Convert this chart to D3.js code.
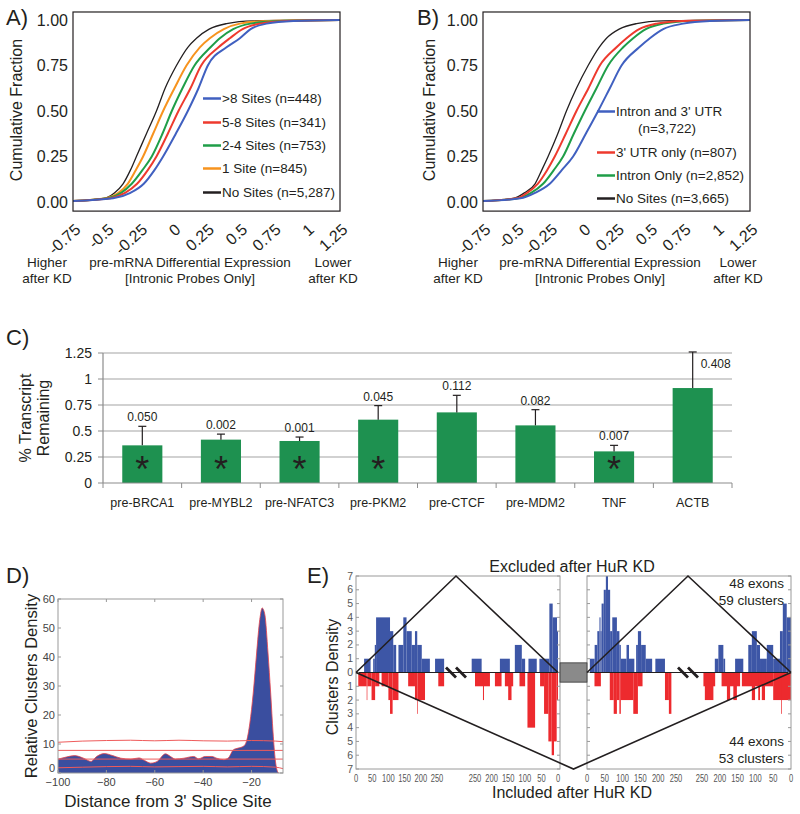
<!DOCTYPE html>
<html><head><meta charset="utf-8">
<script src="https://cdn.jsdelivr.net/npm/d3@7"></script>
<style>
body{margin:0;background:#fff}
svg{display:block}
text{font-family:"Liberation Sans",Arial,Helvetica,sans-serif}
</style>
</head><body>
<svg id="c" width="800" height="814"></svg>
<script>
// ---------------- DATA ----------------
// Panels A/B: x-position (differential expression) reached by each curve at each cumulative-fraction level
const cdfLevels = [0.005,0.02,0.05,0.1,0.175,0.25,0.375,0.5,0.625,0.75,0.85,0.9,0.95,0.98,0.995,1.0];
const aBlack  = [-0.75,-0.52,-0.44,-0.375,-0.32,-0.275,-0.2,-0.125,-0.06,0.025,0.11,0.175,0.27,0.4,0.6,1.25];
const aOrange = [-0.75,-0.5,-0.41,-0.34,-0.28,-0.225,-0.15,-0.075,0.01,0.1,0.2,0.275,0.38,0.5,0.72,1.25];
const aGreen  = [-0.75,-0.49,-0.39,-0.31,-0.23,-0.16,-0.08,-0.01,0.07,0.16,0.28,0.35,0.45,0.58,0.8,1.25];
const aRed    = [-0.75,-0.47,-0.36,-0.27,-0.19,-0.125,-0.04,0.04,0.13,0.21,0.34,0.425,0.52,0.65,0.85,1.25];
const aBlue   = [-0.75,-0.45,-0.32,-0.22,-0.14,-0.075,0.02,0.11,0.19,0.26,0.4,0.5,0.58,0.7,0.9,1.25];
const aLegend = [">8 Sites (n=448)","5-8 Sites (n=341)","2-4 Sites (n=753)","1 Site (n=845)","No Sites (n=5,287)"];

const bBlack = [-0.75,-0.52,-0.44,-0.36,-0.31,-0.2625,-0.19,-0.125,-0.05,0.0375,0.12,0.175,0.27,0.4,0.6,1.25];
const bRed   = [-0.75,-0.5,-0.42,-0.34,-0.27,-0.2125,-0.13,-0.05,0.04,0.125,0.25,0.325,0.42,0.55,0.75,1.25];
const bGreen = [-0.75,-0.49,-0.39,-0.3,-0.22,-0.15,-0.07,0.0125,0.1,0.1875,0.3,0.375,0.47,0.6,0.8,1.25];
const bBlue  = [-0.75,-0.47,-0.36,-0.25,-0.16,-0.075,0.02,0.1125,0.2,0.2875,0.42,0.5,0.6,0.75,0.95,1.25];
const bLegend = ["Intron and 3' UTR","(n=3,722)","3' UTR only (n=807)","Intron Only (n=2,852)","No Sites (n=3,665)"];

const abXTicks = [-0.75,-0.5,-0.25,0,0.25,0.5,0.75,1,1.25];
const abXTickLabels = ["-0.75","-0.5","-0.25","0","0.25","0.5","0.75","1","1.25"];
const abYTicks = [0,0.25,0.5,0.75,1];

// Panel C
const cGenes  = ["pre-BRCA1","pre-MYBL2","pre-NFATC3","pre-PKM2","pre-CTCF","pre-MDM2","TNF","ACTB"];
const cValues = [0.362,0.417,0.404,0.609,0.679,0.554,0.304,0.913];
const cErrTop = [0.545,0.470,0.442,0.744,0.843,0.705,0.362,1.26];
const cPvals  = ["0.050","0.002","0.001","0.045","0.112","0.082","0.007","0.408"];
const cSig    = [true,true,true,true,false,false,true,false];
const cYTicks = [0,0.25,0.5,0.75,1,1.25];
const cYTickLabels = ["0","0.25","0.5","0.75","1","1.25"];

// Panel D
const dX = [-100,-96.6,-93.2,-89.7,-86.3,-84.3,-80.9,-77.4,-74,-69.9,-66.5,-64.4,-61.7,-59,-55.6,-53.5,-51.5,-48,-43.9,-41.9,-39.1,-36.4,-34.4,-31.6,-29.6,-27.5,-25.5,-23.4,-22.1,-20.7,-19.3,-17.9,-16.6,-15.6,-14.5,-13.2,-12.1,-11.1,-10.2,-9.3,-8.8];
const dY = [4.8,5.5,6.0,5.2,4.0,5.5,6.7,6.0,5.1,4.8,5.2,4.4,3.4,4.0,6.6,5.7,4.8,5.1,5.7,4.9,5.7,5.7,5.1,4.6,5.2,8.0,8.6,9.2,10.9,17.2,27.6,41.4,52.9,56.9,54.6,41.4,27.6,13.8,4.6,0.6,0];
const dThreshX = [-100,-90,-80,-70,-60,-50,-40,-30,-20,-10,-7];
const dThreshUpper = [10.6,11.0,11.2,11.3,11.1,11.3,11.1,11.0,11.2,11.0,10.8];
const dThreshLower = [1.8,2.0,2.2,2.3,2.1,2.2,2.3,2.1,2.3,2.0,1.5];
const dThreshFlat = [7.8,4.8];
const dXTicks = [-100,-80,-60,-40,-20];
const dYTicks = [0,10,20,30,40,50,60];

// Panel E: histogram bins [start, end, count]
const eLeftA_blue = [[25,45,1],[53,58,1],[58,62,2],[62,105,4],[105,115,3],[115,124,2],[131,146,2],[146,156,4],[156,172,3],[172,182,2],[182,189,3],[189,203,2],[203,228,1],[244,272,1]];
const eLeftA_red  = [[7,33,1],[33,35,2],[35,48,1],[48,59,2],[59,72,1],[79,100,1],[100,105,2],[105,113,3],[113,131,2],[161,182,1],[182,189,2],[189,191,3],[191,213,2],[254,272,1]];
const eLeftB_blue = [[0,3,3],[3,16,4],[16,26,5],[26,56,1],[64,89,1],[99,109,1],[109,130,2],[145,175,1],[230,260,1]];
const eLeftB_red  = [[0,4,2],[4,12,5],[12,19,6],[19,29,5],[29,42,3],[42,54,1],[69,92,4],[99,116,1],[135,160,1],[140,150,2],[170,190,1],[205,250,1],[223,226,2]];
const eRightA_blue = [[8,21.5,1],[21.5,29,2],[29,35,3],[35,38,4],[38,41,3],[41,47,5],[47,53,6],[53,59,7],[59,65,6],[65,71,3],[71,84,4],[84,91,3],[91,95,2],[95,111,1],[111,118,2],[118,133,1],[138,143,2],[143,152,3],[152,165,2],[165,183,1],[192,219,1]];
const eRightA_red  = [[21,39,1],[64,75,2],[75,84,3],[84,91,2],[91,95,3],[95,130,2],[130,143,3],[143,156,1],[219,230,2],[230,237,3]];
const eRightB_blue = [[0,12,4],[12,23,5],[23,31,3],[31,50,1],[50,68,2],[68,87,1],[87,96,2],[96,110,3],[110,120,2],[134,157,1],[185,190,1],[190,204,2],[204,214,1]];
const eRightB_red  = [[0,50,2],[26,28,3],[50,138,1],[73,82,2],[87,92,2],[101,110,2],[143,195,1],[152,162,2],[171,180,2],[213,246,1],[218,242,2]];
const eXTicks = [0,50,100,150,200,250];
const eYTicks = [-7,-6,-5,-4,-3,-2,-1,0,1,2,3,4,5,6,7];

// ---------------- DRAW ----------------
const svg = d3.select("#c");

function label(g, x, y, s, size, anchor, fill, weight) {
  return g.append("text").attr("x", x).attr("y", y).text(s)
    .attr("font-size", size).attr("text-anchor", anchor || "start")
    .attr("fill", fill || "#231f20").attr("font-weight", weight || "normal");
}
function narrow(g, x, y, s, size, anchor, fill, sx) {
  return g.append("text").attr("transform", `translate(${x},${y}) scale(${sx},1)`).text(s)
    .attr("font-size", size).attr("text-anchor", anchor || "middle").attr("fill", fill || "#231f20");
}

// ===== Panels A & B =====
const yAB = d3.scaleLinear().domain([0, 1]).range([202, 20]);

function cdfPanel(x0, x1, series, letter, letterX, legendX, legendRows, titleX, bottom) {
  const g = svg.append("g");
  const x = d3.scaleLinear().domain([-0.75, 1.25]).range([x0, x1]);
  const line = d3.line().x(d => x(d[0])).y(d => yAB(d[1])).curve(d3.curveMonotoneX);
  series.forEach(s => {
    const pts = s.vals.map((v, i) => [v, cdfLevels[i]]);
    g.append("path").attr("d", line(pts)).attr("fill", "none")
      .attr("stroke", s.color).attr("stroke-width", s.w);
  });
  g.append("rect").attr("x", x0).attr("y", yAB(1.044)).attr("width", x1 - x0)
    .attr("height", yAB(-0.05) - yAB(1.044)).attr("fill", "none").attr("stroke", "#231f20").attr("stroke-width", 1.2);
  const ya = g.append("g").attr("transform", `translate(${x0},0)`)
    .call(d3.axisLeft(yAB).tickValues(abYTicks).tickFormat(d3.format(".2f")).tickSize(0).tickPadding(5));
  ya.select(".domain").remove();
  ya.selectAll("text").attr("font-size", 16).attr("fill", "#231f20").style("font-family", '"Liberation Sans",Arial,sans-serif');
  const xa = g.append("g").attr("transform", `translate(0,${yAB(-0.05)})`)
    .call(d3.axisBottom(x).tickValues(abXTicks).tickFormat((d, i) => abXTickLabels[i]).tickSize(0));
  xa.select(".domain").remove();
  xa.selectAll("text").attr("y", 0).attr("dy", 0).attr("font-size", 16).attr("fill", "#231f20")
    .style("font-family", '"Liberation Sans",Arial,sans-serif')
    .attr("text-anchor", "end").attr("transform", "translate(8,20) rotate(-42)");
  label(g, letterX, 25, letter, 22, "start");
  g.append("text").attr("transform", `translate(${titleX},110) rotate(-90)`).attr("text-anchor", "middle")
    .attr("font-size", 16).attr("fill", "#231f20").text("Cumulative Fraction");
  legendRows.forEach(r => {
    if (r.color) g.append("line").attr("x1", legendX).attr("x2", legendX + 18).attr("y1", r.y - 4.5).attr("y2", r.y - 4.5)
      .attr("stroke", r.color).attr("stroke-width", 2.5);
    label(g, r.tx !== undefined ? r.tx : legendX + 19, r.y, r.text, 13.5, r.anchor || "start");
  });
  label(g, bottom[0], 267, "Higher", 13.5, "middle");
  label(g, bottom[0], 283, "after KD", 13.5, "middle");
  label(g, bottom[1], 267, "pre-mRNA Differential Expression", 13.5, "middle");
  label(g, bottom[1], 283, "[Intronic Probes Only]", 13.5, "middle");
  label(g, bottom[2], 267, "Lower", 13.5, "middle");
  label(g, bottom[2], 283, "after KD", 13.5, "middle");
}

cdfPanel(73, 340, [
  {vals: aBlack, color: "#231f20", w: 1.3},
  {vals: aOrange, color: "#f7931e", w: 2},
  {vals: aGreen, color: "#1f9e48", w: 2},
  {vals: aRed, color: "#ee3a2e", w: 2},
  {vals: aBlue, color: "#4060c0", w: 2}
], "A)", 6, 203, [
  {y: 103, text: aLegend[0], color: "#4060c0"},
  {y: 127, text: aLegend[1], color: "#ee3a2e"},
  {y: 150, text: aLegend[2], color: "#1f9e48"},
  {y: 173, text: aLegend[3], color: "#f7931e"},
  {y: 197, text: aLegend[4], color: "#231f20"}
], 22, [47, 190, 333]);

cdfPanel(483, 750, [
  {vals: bBlack, color: "#231f20", w: 1.3},
  {vals: bGreen, color: "#1f9e48", w: 2},
  {vals: bRed, color: "#ee3a2e", w: 2},
  {vals: bBlue, color: "#4060c0", w: 2}
], "B)", 417, 597, [
  {y: 116, text: bLegend[0], color: "#4060c0"},
  {y: 133, text: bLegend[1], tx: 667, anchor: "middle"},
  {y: 157, text: bLegend[2], color: "#ee3a2e"},
  {y: 180, text: bLegend[3], color: "#1f9e48"},
  {y: 203, text: bLegend[4], color: "#231f20"}
], 435, [458, 600, 738]);

// ===== Panel C =====
(function () {
  const g = svg.append("g");
  const x = d3.scaleBand().domain(cGenes).range([103, 732]).paddingInner(0.49).paddingOuter(0.245);
  const y = d3.scaleLinear().domain([0, 1.25]).range([483, 353]);
  const step = x.step();
  g.selectAll("line.grid").data(cYTicks.slice(1)).join("line").attr("class", "grid")
    .attr("x1", 103).attr("x2", 732).attr("y1", d => y(d)).attr("y2", d => y(d))
    .attr("stroke", "#a3a3a3").attr("stroke-width", 1.2);
  g.selectAll("rect.bar").data(cValues).join("rect").attr("class", "bar")
    .attr("x", (d, i) => x(cGenes[i])).attr("width", x.bandwidth())
    .attr("y", d => y(d)).attr("height", d => y(0) - y(d)).attr("fill", "#1e9150");
  cErrTop.forEach((e, i) => {
    const cx = x(cGenes[i]) + x.bandwidth() / 2;
    g.append("line").attr("x1", cx).attr("x2", cx).attr("y1", y(cValues[i])).attr("y2", y(e)).attr("stroke", "#231f20").attr("stroke-width", 1.2);
    g.append("line").attr("x1", cx - 4).attr("x2", cx + 4).attr("y1", y(e)).attr("y2", y(e)).attr("stroke", "#231f20").attr("stroke-width", 1.2);
    if (i === cGenes.length - 1) {
      label(g, cx + 8, y(1.04) - 7, cPvals[i], 12, "start", "#231f20");
    } else {
      label(g, cx, y(e) - 5, cPvals[i], 12, "middle", "#231f20");
    }
    if (cSig[i]) label(g, cx, y(0) - 1, "*", 36, "middle", "#231f20");
    label(g, cx, 507, cGenes[i], 12.5, "middle", "#231f20");
  });
  // axes
  g.append("line").attr("x1", 103).attr("x2", 732).attr("y1", y(0)).attr("y2", y(0)).attr("stroke", "#8c8c8c").attr("stroke-width", 1.2);
  g.append("line").attr("x1", 103).attr("x2", 103).attr("y1", y(0)).attr("y2", y(1.25)).attr("stroke", "#8c8c8c").attr("stroke-width", 1.2);
  d3.range(cGenes.length + 1).forEach(i => {
    g.append("line").attr("x1", 103 + i * step).attr("x2", 103 + i * step).attr("y1", y(0)).attr("y2", y(0) + 5).attr("stroke", "#8c8c8c");
  });
  cYTicks.forEach((t, i) => {
    g.append("line").attr("x1", 98).attr("x2", 103).attr("y1", y(t)).attr("y2", y(t)).attr("stroke", "#8c8c8c");
    label(g, 92, y(t) + 5, cYTickLabels[i], 14, "end", "#231f20");
  });
  g.append("text").attr("transform", "translate(31,418) rotate(-90)").attr("text-anchor", "middle").attr("font-size", 16).attr("fill", "#231f20").text("% Transcript");
  g.append("text").attr("transform", "translate(49,418) rotate(-90)").attr("text-anchor", "middle").attr("font-size", 16).attr("fill", "#231f20").text("Remaining");
  label(g, 6, 345, "C)", 22);
})();

// ===== Panel D =====
(function () {
  const g = svg.append("g");
  const x = d3.scaleLinear().domain([-100, -7]).range([58, 283]);
  const y = d3.scaleLinear().domain([0, 60]).range([773, 599]);
  const pts = dX.map((v, i) => [v, dY[i]]);
  const area = d3.area().x(d => x(d[0])).y0(y(0)).y1(d => y(d[1])).curve(d3.curveMonotoneX);
  const line = d3.line().x(d => x(d[0])).y(d => y(d[1])).curve(d3.curveMonotoneX);
  g.append("path").attr("d", area(pts)).attr("fill", "#3a4e9f");
  g.append("path").attr("d", line(pts)).attr("fill", "none").attr("stroke", "#e9434a").attr("stroke-width", 0.8);
  const tl = d3.line().x(d => x(d[0])).y(d => y(d[1])).curve(d3.curveMonotoneX);
  [dThreshUpper, dThreshLower].forEach(arr => {
    g.append("path").attr("d", tl(dThreshX.map((v, i) => [v, arr[i]]))).attr("fill", "none").attr("stroke", "#ef5b5b").attr("stroke-width", 1);
  });
  dThreshFlat.forEach(v => {
    g.append("line").attr("x1", x(-100)).attr("x2", x(-7)).attr("y1", y(v)).attr("y2", y(v)).attr("stroke", "#ef5b5b").attr("stroke-width", 1);
  });
  g.append("rect").attr("x", 58).attr("y", 599).attr("width", 225).attr("height", 174).attr("fill", "none").attr("stroke", "#999").attr("stroke-width", 1);
  dYTicks.forEach(t => {
    g.append("line").attr("x1", 58).attr("x2", 61).attr("y1", y(t)).attr("y2", y(t)).attr("stroke", "#999");
    g.append("line").attr("x1", 280).attr("x2", 283).attr("y1", y(t)).attr("y2", y(t)).attr("stroke", "#999");
    label(g, 55, y(t) + (t === 0 ? -1 : 4), String(t), 11, "end", "#444");
  });
  dXTicks.forEach(t => {
    g.append("line").attr("x1", x(t)).attr("x2", x(t)).attr("y1", 599).attr("y2", 602).attr("stroke", "#999");
    g.append("line").attr("x1", x(t)).attr("x2", x(t)).attr("y1", 770).attr("y2", 773).attr("stroke", "#999");
    label(g, x(t), 786, "\u2212" + Math.abs(t), 11, "middle", "#444");
  });
  g.append("text").attr("transform", "translate(37,686) rotate(-90)").attr("text-anchor", "middle").attr("font-size", 16.5).attr("fill", "#231f20").text("Relative Clusters Density");
  label(g, 168, 807, "Distance from 3' Splice Site", 17, "middle");
  label(g, 6, 583, "D)", 22);
})();

// ===== Panel E =====
(function () {
  const g = svg.append("g");
  const y = d3.scaleLinear().domain([-7, 7]).range([769, 576]);
  const panels = [
    {l: 356, r: 560, s1: d3.scaleLinear().domain([0, 250]).range([356, 437]), s2: d3.scaleLinear().domain([0, 250]).range([558, 475]),
      b1: eLeftA_blue, r1: eLeftA_red, b2: eLeftB_blue, r2: eLeftB_red, brk: 456},
    {l: 587, r: 791, s1: d3.scaleLinear().domain([0, 250]).range([587, 676]), s2: d3.scaleLinear().domain([0, 250]).range([791, 702]),
      b1: eRightA_blue, r1: eRightA_red, b2: eRightB_blue, r2: eRightB_red, brk: 688}
  ];
  function bars(sc, data, up, color) {
    g.append("g").selectAll("rect").data(data).join("rect")
      .attr("x", d => Math.min(sc(d[0]), sc(d[1]))).attr("width", d => Math.abs(sc(d[1]) - sc(d[0])))
      .attr("y", d => up ? y(d[2]) : y(0)).attr("height", d => Math.abs(y(d[2]) - y(0)))
      .attr("fill", color);
  }
  panels.forEach((p, pi) => {
    bars(p.s1, p.b1, true, "#3d56a6");
    bars(p.s2, p.b2, true, "#3d56a6");
    bars(p.s1, p.r1, false, "#ed2a2e");
    bars(p.s2, p.r2, false, "#ed2a2e");
    g.append("rect").attr("x", p.l).attr("y", y(7)).attr("width", p.r - p.l).attr("height", y(-7) - y(7))
      .attr("fill", "none").attr("stroke", "#9a9a9a").attr("stroke-width", 1);
    g.append("line").attr("x1", p.l).attr("x2", p.r).attr("y1", y(0)).attr("y2", y(0)).attr("stroke", "#231f20").attr("stroke-width", 1.2);
    eYTicks.forEach(t => {
      g.append("line").attr("x1", p.l).attr("x2", p.l + 3).attr("y1", y(t)).attr("y2", y(t)).attr("stroke", "#9a9a9a");
      g.append("line").attr("x1", p.r - 3).attr("x2", p.r).attr("y1", y(t)).attr("y2", y(t)).attr("stroke", "#9a9a9a");
      if (pi === 0) label(g, p.l - 3, y(t) + 3.5, String(Math.abs(t)), 10.5, "end", "#555");
    });
    eXTicks.forEach(t => {
      narrow(g, p.s1(t), 782, String(t), 10.5, "middle", "#555", 0.72);
      narrow(g, p.s2(t), 782, String(t), 10.5, "middle", "#555", 0.72);
    });
    // break marks
    [-5, 5].forEach(dx => {
      g.append("line").attr("x1", p.brk + dx - 5).attr("x2", p.brk + dx + 5).attr("y1", y(0) - 5).attr("y2", y(0) + 5)
        .attr("stroke", "#231f20").attr("stroke-width", 2.8);
    });
  });
  // gray exon box
  g.append("rect").attr("x", 560).attr("y", y(0.7)).attr("width", 27).attr("height", y(-0.7) - y(0.7))
    .attr("fill", "#8a8a8a").attr("stroke", "#333").attr("stroke-width", 0.8);
  // schematic lines
  const pl = d3.line();
  const L = panels[0], R = panels[1];
  [[[L.s1(0), y(0)], [L.brk, y(7)], [L.s2(0), y(0)]],
   [[R.s1(0), y(0)], [R.brk, y(7)], [R.s2(0), y(0)]],
   [[L.s1(0), y(0)], [573.5, y(-7)], [R.s2(0), y(0)]]].forEach(pts => {
    g.append("path").attr("d", pl(pts)).attr("fill", "none").attr("stroke", "#231f20").attr("stroke-width", 1.6);
  });
  label(g, 572, 572, "Excluded after HuR KD", 16, "middle");
  label(g, 572, 798, "Included after HuR KD", 16, "middle");
  label(g, 784, 588, "48 exons", 13.5, "end");
  label(g, 784, 605, "59 clusters", 13.5, "end");
  label(g, 784, 746, "44 exons", 13.5, "end");
  label(g, 784, 763, "53 clusters", 13.5, "end");
  g.append("text").attr("transform", "translate(338,677) rotate(-90)").attr("text-anchor", "middle").attr("font-size", 16).attr("fill", "#231f20").text("Clusters Density");
  label(g, 307, 583, "E)", 22);
})();
</script>
</body></html>
